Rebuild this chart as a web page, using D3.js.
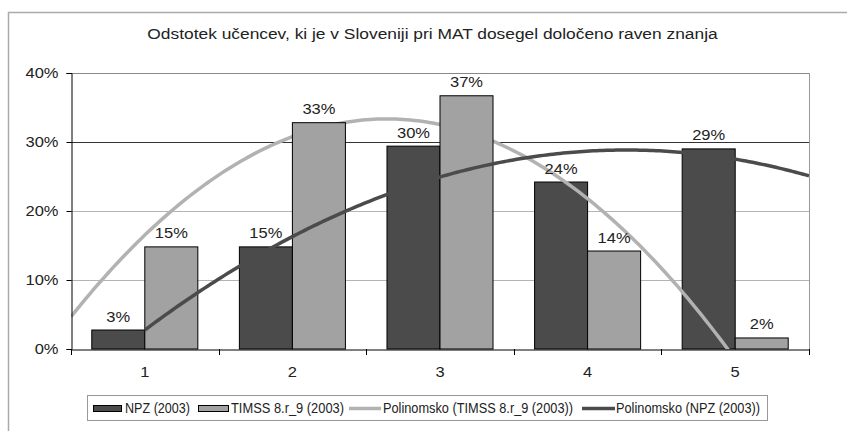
<!DOCTYPE html>
<html><head><meta charset="utf-8">
<script src="https://cdn.jsdelivr.net/npm/d3@7/dist/d3.min.js"></script>
<style>body{margin:0;background:#fff}svg{display:block}text{font-family:"Liberation Sans",Arial,sans-serif;fill:#222}</style>
</head><body>
<script>
const title = "Odstotek učencev, ki je v Sloveniji pri MAT dosegel določeno raven znanja";
const categories = ["1","2","3","4","5"];
const seriesNames = ["NPZ (2003)", "TIMSS 8.r_9 (2003)"];
const npzValues   = [0.0275, 0.148, 0.294, 0.242, 0.290];
const timssValues = [0.148, 0.328, 0.367, 0.142, 0.016];
const npzLabels   = ["3%","15%","30%","24%","29%"];
const timssLabels = ["15%","33%","37%","14%","2%"];
const yTicks = [0, 0.1, 0.2, 0.3, 0.4];
const legendLabels = ["NPZ (2003)", "TIMSS 8.r_9 (2003)", "Polinomsko (TIMSS 8.r_9 (2003))", "Polinomsko (NPZ (2003))"];

const W = 847, H = 431;
const L = 71, R = 809, T = 73, B = 349;
const cNPZ = "#4b4b4b", cTIMSS = "#a2a2a2", cTrendT = "#b2b2b2", cTrendN = "#4b4b4b";

function stretch(sel, f) {
  sel.each(function () {
    const w = this.getComputedTextLength();
    d3.select(this).attr("textLength", w * f).attr("lengthAdjust", "spacingAndGlyphs");
  });
}

const svg = d3.select("body").append("svg").attr("width", W).attr("height", H);
svg.append("rect").attr("x", 8.5).attr("y", 12.5).attr("width", 900).attr("height", 900)
  .attr("fill", "none").attr("stroke", "#aaa").attr("stroke-width", 1.5);

svg.append("text").attr("x", 432.5).attr("y", 39).attr("text-anchor", "middle")
  .style("font-size", "15.5px").text(title).call(stretch, 1.12);

const x = d3.scaleBand().domain(categories).range([L, R]).padding(0);
const xs = d3.scaleBand().domain(seriesNames).range([0, x.bandwidth()]).paddingInner(0).paddingOuter(0.392);
const xl = d3.scaleLinear().domain([0.5, 5.5]).range([L, R]);
const y = d3.scaleLinear().domain([0, 0.4]).range([B, T]);

const gridColor = v => v === 0.3 ? "#333" : (v === 0.4 ? "#888" : "#b4b4b4");
svg.append("g").selectAll("line").data(yTicks.filter(v => v > 0)).join("line")
  .attr("x1", L).attr("x2", R).attr("y1", d => Math.round(y(d)) + 0.5).attr("y2", d => Math.round(y(d)) + 0.5)
  .attr("stroke", gridColor).attr("stroke-width", 1);
svg.append("line").attr("x1", R + 0.5).attr("x2", R + 0.5).attr("y1", T).attr("y2", B)
  .attr("stroke", "#999");

function quadFit(vals) {
  const xsv = vals.map((_, i) => i + 1);
  let S = [0,0,0,0,0], Sy = [0,0,0];
  xsv.forEach((xv, i) => { for (let k = 0; k < 5; k++) S[k] += xv ** k; for (let k = 0; k < 3; k++) Sy[k] += vals[i] * xv ** k; });
  const A = [[S[0],S[1],S[2],Sy[0]],[S[1],S[2],S[3],Sy[1]],[S[2],S[3],S[4],Sy[2]]];
  for (let i = 0; i < 3; i++) { for (let j = i + 1; j < 3; j++) { const f = A[j][i] / A[i][i]; for (let k = i; k < 4; k++) A[j][k] -= f * A[i][k]; } }
  const c = [0,0,0];
  for (let i = 2; i >= 0; i--) { let s = A[i][3]; for (let k = i + 1; k < 3; k++) s -= A[i][k] * c[k]; c[i] = s / A[i][i]; }
  return xv => c[0] + c[1] * xv + c[2] * xv * xv;
}
const fT = quadFit(timssValues), fN = quadFit(npzValues);
const line = d3.line().x(d => xl(d[0])).y(d => y(d[1]));
const sample = (f, a, b) => d3.range(0, 201).map(i => { const xv = a + (b - a) * i / 200; return [xv, f(xv)]; });

svg.append("clipPath").attr("id", "plot").append("rect").attr("x", L).attr("y", T - 2).attr("width", R - L).attr("height", B - T + 2);

svg.append("g").selectAll("rect").data(npzValues).join("rect")
  .attr("x", (d, i) => x(categories[i]) + xs(seriesNames[0])).attr("width", xs.bandwidth())
  .attr("y", d => y(d)).attr("height", d => B - y(d))
  .attr("fill", cNPZ).attr("stroke", "#000").attr("stroke-width", 1);
svg.append("path").attr("clip-path", "url(#plot)").attr("d", line(sample(fT, 0.5, 5.5)))
  .attr("fill", "none").attr("stroke", cTrendT).attr("stroke-width", 3.5);
svg.append("g").selectAll("rect").data(timssValues).join("rect")
  .attr("x", (d, i) => x(categories[i]) + xs(seriesNames[1])).attr("width", xs.bandwidth())
  .attr("y", d => y(d)).attr("height", d => B - y(d))
  .attr("fill", cTIMSS).attr("stroke", "#000").attr("stroke-width", 1);
svg.append("path").attr("clip-path", "url(#plot)").attr("d", line(sample(fN, 1, 5.5)))
  .attr("fill", "none").attr("stroke", cTrendN).attr("stroke-width", 3.5);

const lab = svg.append("g").style("font-size", "15px").attr("text-anchor", "middle");
lab.selectAll("text.n").data(npzValues).join("text").attr("class", "n")
  .attr("x", (d, i) => x(categories[i]) + xs(seriesNames[0]) + xs.bandwidth() / 2)
  .attr("y", d => y(d) - 8.5).text((d, i) => npzLabels[i]);
lab.selectAll("text.t").data(timssValues).join("text").attr("class", "t")
  .attr("x", (d, i) => x(categories[i]) + xs(seriesNames[1]) + xs.bandwidth() / 2)
  .attr("y", d => y(d) - 8.5).text((d, i) => timssLabels[i]);
lab.selectAll("text").call(stretch, 1.1);

const yAxis = d3.axisLeft(y).tickValues(yTicks).tickFormat(d3.format(".0%")).tickSize(5).tickPadding(8);
const gy = svg.append("g").attr("transform", `translate(${L + 0.5},0)`).call(yAxis);
gy.select(".domain").attr("stroke", "#000");
gy.selectAll(".tick line").attr("stroke", "#000");
gy.selectAll(".tick text").style("font-size", "15px").style("font-family", '"Liberation Sans",Arial,sans-serif').attr("fill", "#222").call(stretch, 1.1);

const xAxis = d3.axisBottom(x).tickSize(0).tickPadding(17);
const gx = svg.append("g").attr("transform", `translate(0,${B + 0.5})`).call(xAxis);
gx.select(".domain").attr("stroke", "#000");
gx.selectAll(".tick text").style("font-size", "15px").style("font-family", '"Liberation Sans",Arial,sans-serif').attr("fill", "#222").call(stretch, 1.1);
svg.append("g").selectAll("line").data(d3.range(categories.length + 1)).join("line")
  .attr("x1", i => Math.round(L + i * x.step()) + 0.5).attr("x2", i => Math.round(L + i * x.step()) + 0.5)
  .attr("y1", B).attr("y2", B + 6).attr("stroke", "#000");

const lg = svg.append("g");
lg.append("rect").attr("x", 87.5).attr("y", 395.5).attr("width", 680).attr("height", 25)
  .attr("fill", "#fff").attr("stroke", "#999");
const items = [
  {type: "rect", color: cNPZ, sx: 93, sw: 28, tx: 125, tw: 65},
  {type: "rect", color: cTIMSS, sx: 198, sw: 30, tx: 231, tw: 113},
  {type: "line", color: cTrendT, sx: 349, sw: 32, tx: 383, tw: 190},
  {type: "line", color: cTrendN, sx: 582, sw: 33, tx: 616, tw: 144}
];
items.forEach((it, i) => {
  if (it.type === "rect") lg.append("rect").attr("x", it.sx + 0.5).attr("y", 405.5).attr("width", it.sw).attr("height", 6)
    .attr("fill", it.color).attr("stroke", "#000");
  else lg.append("line").attr("x1", it.sx).attr("x2", it.sx + it.sw).attr("y1", 408.5).attr("y2", 408.5)
    .attr("stroke", it.color).attr("stroke-width", 3.5);
  lg.append("text").attr("x", it.tx).attr("y", 413).style("font-size", "14px")
    .attr("textLength", it.tw).attr("lengthAdjust", "spacingAndGlyphs").text(legendLabels[i]);
});
</script>
</body></html>
